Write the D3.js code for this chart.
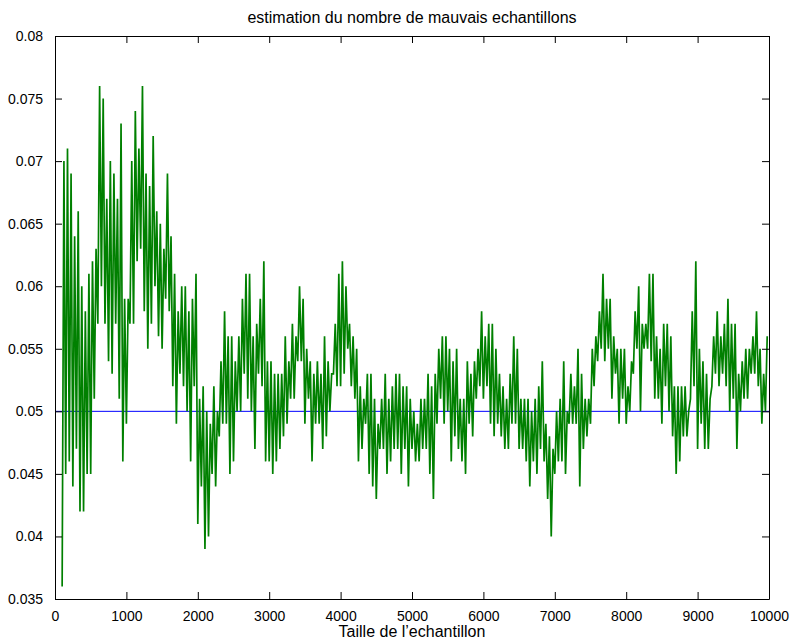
<!DOCTYPE html>
<html>
<head>
<meta charset="utf-8">
<script src="https://cdn.jsdelivr.net/npm/d3@7"></script>
<style>
  body { margin: 0; background: #fff; }
  svg { display: block; font-family: "Liberation Sans", Arial, Helvetica, sans-serif; }
</style>
</head>
<body>
<div id="chart"></div>
<script>
// taille d'echantillon : une paire (bas, haut) tous les 50, a partir de 100
const xStart = 100;
const xStep = 50;

// valeurs basses de l'estimation (en pour mille)
const lowPermil = [
  36, 45, 46, 44, 47, 42, 42, 45, 45, 51, 57, 60, 57, 54, 53, 57, 51, 46, 49, 57,
  57, 62, 63, 58, 55, 57, 60, 56, 55, 59, 58, 52, 49, 53, 52, 50, 46, 52,
  41, 44, 39, 40, 45, 44, 48, 49, 49, 45, 46, 50, 50, 53, 51, 50, 47, 53, 52, 46,
  46, 45, 46, 47, 48, 49, 51, 51, 54, 54, 49, 51, 46, 49, 49, 47, 48, 50, 53, 52,
  52, 53, 55, 52, 51, 46, 47, 49, 45, 44, 43, 47, 47, 45, 46, 47, 47, 45, 47, 44,
  47, 46, 46, 47, 47, 45, 43, 49, 51, 49, 50, 46, 48, 47, 46, 45, 49, 48, 51, 52,
  51, 52, 49, 48, 49, 48, 47, 47, 49, 49, 47, 47, 46, 44, 46, 45, 47, 46, 43, 40,
  45, 46, 46, 45, 49, 49, 49, 44, 47, 48, 49, 52, 54, 55, 54, 55, 51, 53, 49, 51,
  49, 50, 53, 55, 50, 55, 55, 54, 51, 51, 49, 52, 50, 48, 45, 46, 48, 48, 51, 52,
  47, 49, 47, 47, 52, 53, 52, 53, 52, 50, 51, 47, 50, 51, 51, 53, 53, 52, 49, 50
];

// valeurs hautes de l'estimation (en pour mille)
const highPermil = [
  70, 71, 69, 64, 66, 60, 58, 61, 62, 63, 76, 75, 67, 70, 69, 67, 73, 59, 59, 70,
  74, 71, 76, 69, 68, 72, 66, 65, 63, 69, 64, 61, 58, 60, 60, 58, 59, 61,
  51, 52, 50, 49, 52, 50, 54, 58, 56, 56, 54, 56, 59, 61, 61, 56, 57, 59, 62, 54,
  54, 53, 53, 53, 56, 54, 57, 56, 60, 59, 55, 54, 53, 54, 53, 56, 54, 53, 57, 61,
  62, 60, 57, 56, 55, 52, 51, 53, 53, 51, 49, 51, 53, 51, 52, 53, 53, 52, 52, 51,
  50, 49, 51, 51, 53, 52, 53, 55, 56, 56, 55, 54, 55, 51, 51, 54, 53, 54, 55, 58,
  56, 57, 57, 55, 53, 52, 51, 53, 56, 55, 51, 51, 51, 50, 51, 52, 54, 49, 48, 47,
  50, 51, 54, 50, 53, 52, 55, 53, 51, 51, 55, 56, 58, 61, 59, 59, 56, 55, 55, 55,
  52, 54, 58, 60, 57, 57, 61, 61, 56, 55, 57, 57, 56, 52, 52, 52, 52, 50, 58, 62,
  55, 54, 53, 51, 56, 58, 56, 57, 59, 57, 57, 53, 54, 55, 55, 56, 58, 55, 53, 56
];

const referenceValue = 0.05;

const xTicks = [0, 1000, 2000, 3000, 4000, 5000, 6000, 7000, 8000, 9000, 10000];
const yTicks = [0.035, 0.04, 0.045, 0.05, 0.055, 0.06, 0.065, 0.07, 0.075, 0.08];
const yTickLabels = ['0.035', '0.04', '0.045', '0.05', '0.055', '0.06', '0.065', '0.07', '0.075', '0.08'];

const titleText = 'estimation du nombre de mauvais echantillons';
const xLabelText = 'Taille de l\u2019echantillon';

const width = 791;
const height = 639;
const margin = { top: 36, right: 22, bottom: 40, left: 55 };
const innerW = width - margin.left - margin.right;
const innerH = height - margin.top - margin.bottom;
const tickLen = 7;

// build the zig-zag line: for each bin, low point then high point
const points = [];
lowPermil.forEach(function(lo, i) {
  const x0 = xStart + i * xStep;
  points.push({ x: x0, y: lo / 1000 });
  points.push({ x: x0 + xStep / 2, y: highPermil[i] / 1000 });
});

const svg = d3.select('#chart').append('svg')
  .attr('width', width)
  .attr('height', height);

const g = svg.append('g')
  .attr('transform', 'translate(' + margin.left + ',' + margin.top + ')');

const x = d3.scaleLinear().domain([0, 10000]).range([0, innerW]);
const y = d3.scaleLinear().domain([0.035, 0.08]).range([innerH, 0]);

// reference line at 0.05
g.append('line')
  .attr('x1', x(0))
  .attr('x2', x(10000))
  .attr('y1', y(referenceValue))
  .attr('y2', y(referenceValue))
  .attr('stroke', '#0000ff')
  .attr('stroke-width', 1);

const line = d3.line()
  .x(function(d) { return x(d.x); })
  .y(function(d) { return y(d.y); });

// the original curve is very dense, a wider stroke gives the same filled look
g.append('path')
  .datum(points)
  .attr('fill', 'none')
  .attr('stroke', '#008000')
  .attr('stroke-width', 1.7)
  .attr('stroke-linejoin', 'miter')
  .attr('stroke-miterlimit', 3)
  .attr('d', line);

// axes, matlab style: ticks inside on all four sides
const xAxisBottom = d3.axisBottom(x).tickValues(xTicks).tickSizeInner(-tickLen).tickSizeOuter(0)
  .tickPadding(tickLen + 5).tickFormat(d3.format('d'));
const xAxisTop = d3.axisTop(x).tickValues(xTicks).tickSizeInner(-tickLen).tickSizeOuter(0).tickFormat('');
const yAxisLeft = d3.axisLeft(y).tickValues(yTicks).tickSizeInner(-tickLen).tickSizeOuter(0)
  .tickPadding(tickLen + 5).tickFormat(function(d, i) { return yTickLabels[i]; });
const yAxisRight = d3.axisRight(y).tickValues(yTicks).tickSizeInner(-tickLen).tickSizeOuter(0).tickFormat('');

const gx = g.append('g').attr('transform', 'translate(0,' + innerH + ')').call(xAxisBottom);
const gxt = g.append('g').call(xAxisTop);
const gy = g.append('g').call(yAxisLeft);
const gyr = g.append('g').attr('transform', 'translate(' + innerW + ',0)').call(yAxisRight);

[gx, gxt, gy, gyr].forEach(function(a) {
  a.selectAll('.domain').attr('stroke', '#000').attr('stroke-width', 1);
  a.selectAll('.tick line').attr('stroke', '#000');
  a.selectAll('text').attr('fill', '#000').attr('font-size', '14px')
    .attr('font-family', '"Liberation Sans", Arial, sans-serif');
});

// title and label
svg.append('text')
  .attr('x', margin.left + innerW / 2)
  .attr('y', 23)
  .attr('text-anchor', 'middle')
  .attr('font-size', '16px')
  .attr('fill', '#000')
  .text(titleText);

svg.append('text')
  .attr('x', margin.left + innerW / 2)
  .attr('y', 637)
  .attr('text-anchor', 'middle')
  .attr('font-size', '16px')
  .attr('fill', '#000')
  .text(xLabelText);
</script>
</body>
</html>
